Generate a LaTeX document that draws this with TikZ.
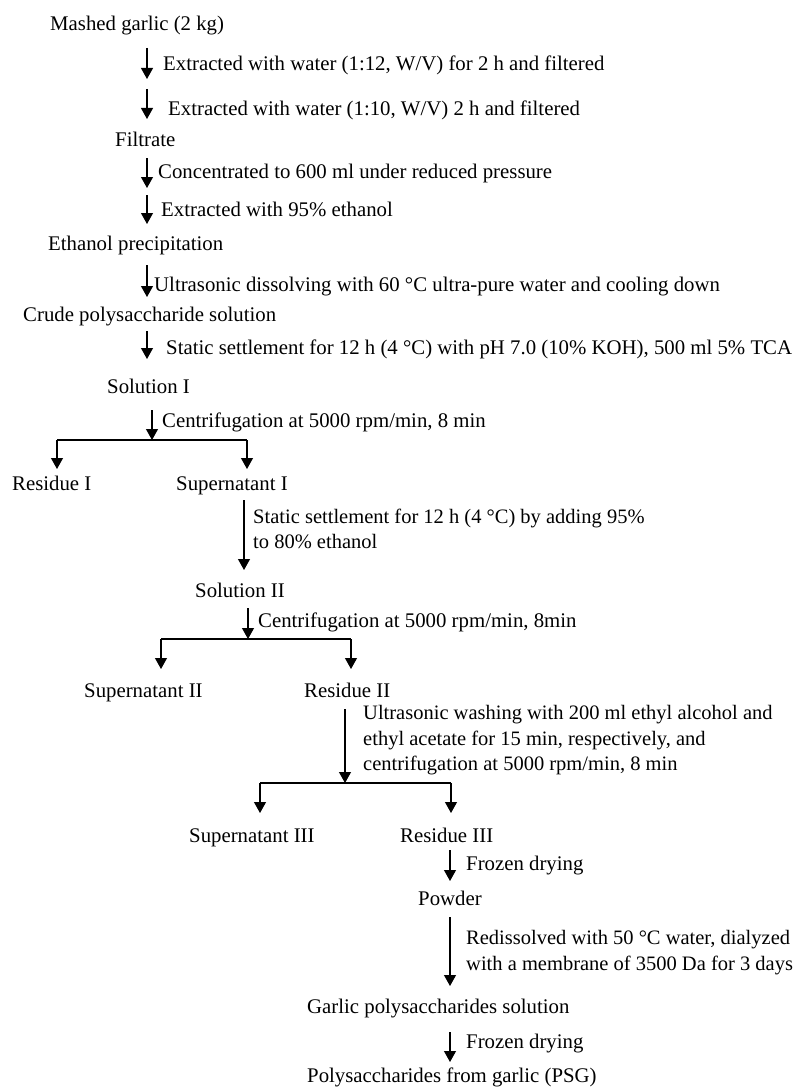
\documentclass[tikz,border=0pt]{standalone}
\usepackage{fontspec}
\setmainfont{Liberation Serif}
\usetikzlibrary{arrows.meta}
\begin{document}
\begin{tikzpicture}[x=1pt,y=-1pt,
  txt/.style={anchor=mid west,inner sep=0pt,yshift=-3.5pt,font=\fontsize{20.8}{26}\selectfont},
  mtxt/.style={anchor=north west,inner sep=0pt,align=left,font=\fontsize{20.5}{25.5}\selectfont},
  flow/.style={line width=1.1pt,-{Triangle[width=12pt,length=11pt]}},
  seg/.style={line width=1.1pt}]
\useasboundingbox (0,0) rectangle (799,1089);
% main nodes
\node[txt] (n1) at (50,25) {Mashed garlic (2 kg)};
\node[txt] (n2) at (115,141) {Filtrate};
\node[txt] (n3) at (48,245) {Ethanol precipitation};
\node[txt] (n4) at (23,316) {Crude polysaccharide solution};
\node[txt] (n5) at (107,388) {Solution I};
\node[txt] (n6) at (12,485) {Residue I};
\node[txt] (n7) at (176,485) {Supernatant I};
\node[txt] (n8) at (195,592) {Solution II};
\node[txt] (n9) at (84,692) {Supernatant II};
\node[txt] (n10) at (304,692) {Residue II};
\node[txt] (n11) at (189,837) {Supernatant III};
\node[txt] (n12) at (400,837) {Residue III};
\node[txt] (n13) at (418,900) {Powder};
\node[txt] (n14) at (307,1008) {Garlic polysaccharides solution};
\node[txt] (n15) at (307,1077) {Polysaccharides from garlic (PSG)};
% labels
\node[txt] (l1) at (163,65) {Extracted with water (1:12, W/V) for 2 h and filtered};
\node[txt] (l2) at (168,110) {Extracted with water (1:10, W/V) 2 h and filtered};
\node[txt] (l3) at (158,173) {Concentrated to 600 ml under reduced pressure};
\node[txt] (l4) at (161,211) {Extracted with 95\% ethanol};
\node[txt] (l5) at (154,286) {Ultrasonic dissolving with 60 °C ultra-pure water and cooling down};
\node[txt] (l6) at (166,349) {Static settlement for 12 h (4 °C) with pH 7.0 (10\% KOH), 500 ml 5\% TCA};
\node[txt] (l7) at (162,422) {Centrifugation at 5000 rpm/min, 8 min};
\node[mtxt] (l8) at (253,508.5) {Static settlement for 12 h (4 °C) by adding 95\%\\to 80\% ethanol};
\node[txt] (l9) at (258,622) {Centrifugation at 5000 rpm/min, 8min};
\node[mtxt] (l10) at (363,705.5) {Ultrasonic washing with 200 ml ethyl alcohol and\\ethyl acetate for 15 min, respectively, and\\centrifugation at 5000 rpm/min, 8 min};
\node[txt] (l11) at (466,865) {Frozen drying};
\node[mtxt] (l12) at (466,930.5) {Redissolved with 50 °C water, dialyzed\\with a membrane of 3500 Da for 3 days};
\node[txt] (l13) at (466,1043) {Frozen drying};
% arrow coordinates
\coordinate (a1s) at (147,48);  \coordinate (a1e) at (147,79);
\coordinate (a2s) at (147,89);  \coordinate (a2e) at (147,119);
\coordinate (a3s) at (147,158); \coordinate (a3e) at (147,188);
\coordinate (a4s) at (147,195); \coordinate (a4e) at (147,224);
\coordinate (a5s) at (147,265); \coordinate (a5e) at (147,297);
\coordinate (a6s) at (147,331); \coordinate (a6e) at (147,359);
\coordinate (a7s) at (152,410); \coordinate (a7e) at (152,440);
\coordinate (b1l) at (57,440);  \coordinate (b1r) at (247,440);
\coordinate (b1le) at (57,469); \coordinate (b1re) at (247,469);
\coordinate (a8s) at (244,500); \coordinate (a8e) at (244,570);
\coordinate (a9s) at (248,608); \coordinate (a9e) at (248,639);
\coordinate (b2l) at (161,639); \coordinate (b2r) at (351,639);
\coordinate (b2le) at (161,669); \coordinate (b2re) at (351,669);
\coordinate (a10s) at (345,709); \coordinate (a10e) at (345,783);
\coordinate (b3l) at (260,783); \coordinate (b3r) at (451,783);
\coordinate (b3le) at (260,813); \coordinate (b3re) at (451,813);
\coordinate (a11s) at (450,850); \coordinate (a11e) at (450,881);
\coordinate (a12s) at (450,917); \coordinate (a12e) at (450,986);
\coordinate (a13s) at (450,1032); \coordinate (a13e) at (450,1062);
% arrows
\draw[flow] (a1s) -- (a1e);
\draw[flow] (a2s) -- (a2e);
\draw[flow] (a3s) -- (a3e);
\draw[flow] (a4s) -- (a4e);
\draw[flow] (a5s) -- (a5e);
\draw[flow] (a6s) -- (a6e);
\draw[flow] (a7s) -- (a7e);
\draw[seg] (b1l) -- (b1r);
\draw[flow] (b1l) -- (b1le);
\draw[flow] (b1r) -- (b1re);
\draw[flow] (a8s) -- (a8e);
\draw[flow] (a9s) -- (a9e);
\draw[seg] (b2l) -- (b2r);
\draw[flow] (b2l) -- (b2le);
\draw[flow] (b2r) -- (b2re);
\draw[flow] (a10s) -- (a10e);
\draw[seg] (b3l) -- (b3r);
\draw[flow] (b3l) -- (b3le);
\draw[flow] (b3r) -- (b3re);
\draw[flow] (a11s) -- (a11e);
\draw[flow] (a12s) -- (a12e);
\draw[flow] (a13s) -- (a13e);
\end{tikzpicture}
\end{document}
